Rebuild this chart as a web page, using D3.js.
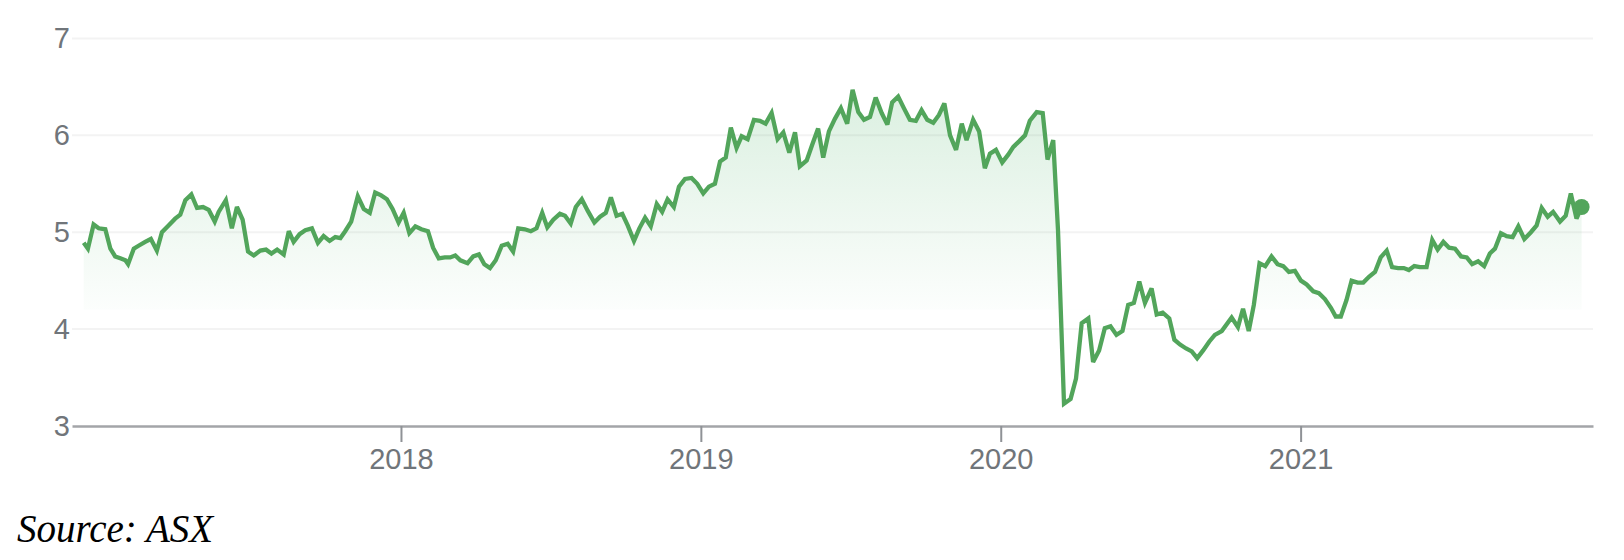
<!DOCTYPE html>
<html>
<head>
<meta charset="utf-8">
<script src="https://cdn.jsdelivr.net/npm/d3@7"></script>
<style>
  html, body { margin: 0; padding: 0; background: #fff; }
  svg { display: block; }
</style>
</head>
<body>
<svg id="chart" width="1624" height="560"></svg>
<script>
// ---- DATA (decimal year, price) ----
const years = [
2016.942,2016.956,2016.975,2016.992,2017.014,2017.031,2017.047,2017.064,2017.081,2017.090,
2017.109,2017.125,2017.147,2017.166,2017.186,2017.203,2017.225,2017.247,2017.264,2017.281,
2017.301,2017.320,2017.340,2017.359,2017.379,2017.392,2017.416,2017.436,2017.453,2017.472,
2017.490,2017.509,2017.531,2017.550,2017.568,2017.587,2017.609,2017.626,2017.642,2017.662,
2017.681,2017.703,2017.723,2017.742,2017.762,2017.781,2017.798,2017.814,2017.834,2017.856,
2017.876,2017.896,2017.914,2017.934,2017.953,2017.972,2017.992,2018.009,2018.028,2018.048,
2018.068,2018.090,2018.107,2018.126,2018.146,2018.164,2018.181,2018.198,
2018.222,2018.241,2018.260,2018.278,2018.297,2018.316,2018.336,2018.356,2018.374,2018.391,
2018.413,2018.433,2018.452,2018.471,2018.488,2018.508,2018.530,2018.547,2018.566,2018.583,
2018.603,2018.623,2018.645,2018.664,2018.683,2018.700,2018.719,2018.738,2018.756,2018.777,
2018.795,2018.814,2018.833,2018.853,2018.871,2018.889,2018.910,2018.927,2018.947,2018.969,
2018.988,2019.008,2019.027,2019.047,2019.064,2019.083,2019.100,2019.119,2019.136,2019.156,
2019.177,2019.197,2019.216,2019.236,2019.256,2019.275,2019.295,2019.314,2019.330,2019.353,
2019.371,2019.391,2019.408,2019.427,2019.447,2019.467,
2019.488,2019.506,2019.525,2019.544,2019.564,2019.583,2019.603,2019.622,2019.638,2019.658,
2019.677,2019.697,2019.717,2019.736,2019.755,2019.775,2019.794,2019.812,2019.831,2019.851,
2019.870,2019.886,2019.908,2019.928,2019.947,2019.964,2019.984,2020.005,2020.025,2020.042,
2020.062,2020.081,2020.097,2020.120,2020.140,2020.156,2020.175,2020.191,2020.211,2020.233,
2020.251,2020.270,2020.292,2020.308,2020.328,2020.347,2020.366,2020.386,2020.406,2020.425,
2020.444,2020.462,2020.481,2020.503,2020.520,2020.540,2020.562,2020.579,2020.598,2020.618,
2020.637,2020.655,2020.675,2020.695,2020.714,2020.737,2020.770,2020.791,2020.808,2020.827,
2020.844,2020.863,2020.882,2020.903,2020.923,2020.942,2020.961,2020.981,2021.001,2021.020,
2021.042,2021.061,2021.081,2021.101,2021.117,2021.134,2021.153,2021.170,2021.190,2021.209,
2021.228,2021.248,2021.267,2021.287,2021.305,2021.325,2021.344,2021.361,2021.379,2021.398,
2021.420,2021.439,2021.457,2021.476,2021.495,2021.515,2021.535,2021.554,2021.572,2021.592,
2021.612,2021.631,2021.648,2021.668,2021.687,2021.707,2021.726,2021.746,2021.768,2021.787,
2021.804,2021.824,2021.842,2021.865,2021.884,2021.901,2021.920,2021.937
];
const prices = [
4.89,4.83,5.08,5.04,5.03,4.83,4.75,4.73,4.71,4.67,
4.83,4.86,4.90,4.93,4.81,5.00,5.07,5.14,5.18,5.33,
5.39,5.25,5.26,5.23,5.11,5.21,5.33,5.04,5.26,5.13,
4.80,4.76,4.81,4.82,4.78,4.82,4.77,5.01,4.90,4.98,
5.02,5.04,4.89,4.96,4.91,4.95,4.94,5.01,5.11,5.37,
5.24,5.20,5.41,5.38,5.34,5.24,5.10,5.20,4.99,5.06,
5.03,5.01,4.84,4.73,4.74,4.74,4.76,4.71,
4.68,4.75,4.77,4.67,4.63,4.71,4.86,4.88,4.80,5.04,
5.03,5.01,5.04,5.20,5.05,5.13,5.19,5.17,5.09,5.26,
5.34,5.22,5.10,5.16,5.20,5.36,5.17,5.19,5.07,4.91,
5.04,5.15,5.06,5.29,5.21,5.34,5.26,5.47,5.55,5.56,
5.50,5.40,5.47,5.50,5.73,5.77,6.08,5.87,5.99,5.96,
6.16,6.15,6.12,6.23,5.96,6.03,5.82,6.03,5.68,5.74,
5.90,6.07,5.77,6.04,6.17,6.28,
6.12,6.47,6.24,6.16,6.19,6.39,6.23,6.11,6.34,6.40,
6.28,6.16,6.15,6.26,6.16,6.13,6.21,6.33,6.00,5.85,
6.12,5.95,6.16,6.04,5.66,5.81,5.85,5.72,5.80,5.88,
5.94,6.00,6.15,6.24,6.23,5.75,5.95,5.02,3.23,3.28,
3.49,4.06,4.11,3.66,3.78,4.01,4.03,3.94,3.98,4.25,
4.27,4.49,4.27,4.42,4.15,4.17,4.11,3.89,3.84,3.80,
3.77,3.70,3.78,3.87,3.94,3.98,4.12,4.02,4.21,3.98,
4.25,4.68,4.65,4.75,4.67,4.65,4.59,4.60,4.50,4.46,
4.39,4.37,4.31,4.22,4.13,4.13,4.30,4.50,4.48,4.48,
4.54,4.59,4.74,4.81,4.64,4.63,4.63,4.61,4.65,4.64,
4.64,4.92,4.82,4.90,4.84,4.83,4.75,4.74,4.67,4.70,
4.65,4.78,4.83,4.99,4.96,4.95,5.06,4.93,5.00,5.07,
5.25,5.16,5.21,5.11,5.17,5.40,5.14,5.26
];
const xDomain = [2016.903, 2021.975];
const yTicks = [3, 4, 5, 6, 7];
const xTicks = [2018, 2019, 2020, 2021];
const sourceText = "Source: ASX";

// ---- LAYOUT ----
const svg = d3.select("#chart");
const mLeft = 72, mRight = 1593, mTop = 38.4, mBottom = 426;
const lineColor = "#52a55b";
const textColor = "#70757a";

const data = years.map((t, i) => ({ t, v: prices[i] }));

const x = d3.scaleLinear().domain(xDomain).range([mLeft, mRight]);
const y = d3.scaleLinear().domain([3, 7]).range([mBottom, mTop]);

// gradient
const defs = svg.append("defs");
const grad = defs.append("linearGradient")
  .attr("id", "fillGrad")
  .attr("gradientUnits", "userSpaceOnUse")
  .attr("x1", 0).attr("x2", 0)
  .attr("y1", y(6.5)).attr("y2", y(4.2));
grad.append("stop").attr("offset", 0).attr("stop-color", "#34a853").attr("stop-opacity", 0.18);
grad.append("stop").attr("offset", 1).attr("stop-color", "#34a853").attr("stop-opacity", 0.015);

defs.append("clipPath").attr("id", "fillClip")
  .append("rect").attr("x", mLeft).attr("y", 0)
  .attr("width", mRight - mLeft).attr("height", y(4.2));

// gridlines
svg.append("g")
  .selectAll("line")
  .data(yTicks.filter(d => d !== 3))
  .join("line")
  .attr("x1", mLeft).attr("x2", mRight)
  .attr("y1", d => y(d)).attr("y2", d => y(d))
  .attr("stroke", "#f3f3f3")
  .attr("stroke-width", 2);

// area
const area = d3.area()
  .x(d => x(d.t))
  .y0(y(4.2))
  .y1(d => y(d.v));
svg.append("path")
  .datum(data)
  .attr("d", area)
  .attr("fill", "url(#fillGrad)")
  .attr("clip-path", "url(#fillClip)");

// y axis labels
const yAxis = svg.append("g")
  .attr("transform", `translate(${mLeft},0)`)
  .call(d3.axisLeft(y).tickValues(yTicks).tickSize(0).tickPadding(2).tickFormat(d3.format("d")));
yAxis.select(".domain").remove();
yAxis.selectAll("text")
  .attr("fill", textColor)
  .style("font-family", "'Liberation Sans', Arial, sans-serif")
  .style("font-size", "29px");

// x axis
const xAxis = svg.append("g")
  .attr("transform", `translate(0,${mBottom})`)
  .call(d3.axisBottom(x).tickValues(xTicks).tickFormat(d3.format("d"))
    .tickSizeInner(16).tickSizeOuter(0).tickPadding(6));
xAxis.select(".domain").attr("stroke", "#a3a5a8").attr("stroke-width", 2.5);
xAxis.selectAll(".tick line").attr("stroke", "#8f9296").attr("stroke-width", 2);
xAxis.selectAll("text")
  .attr("fill", textColor)
  .style("font-family", "'Liberation Sans', Arial, sans-serif")
  .style("font-size", "29px");

// line
const line = d3.line()
  .x(d => x(d.t))
  .y(d => y(d.v));
svg.append("path")
  .datum(data)
  .attr("d", line)
  .attr("fill", "none")
  .attr("stroke", lineColor)
  .attr("stroke-width", 4.3)
  .attr("stroke-linejoin", "miter")
  .attr("stroke-miterlimit", 3);

// end dot
const last = data[data.length - 1];
svg.append("circle")
  .attr("cx", x(last.t))
  .attr("cy", y(last.v))
  .attr("r", 8)
  .attr("fill", lineColor);

// source
svg.append("text")
  .attr("x", 17)
  .attr("y", 542)
  .text(sourceText)
  .style("font-family", "'Liberation Serif', 'Times New Roman', serif")
  .style("font-style", "italic")
  .style("font-size", "39px")
  .attr("fill", "#000");
</script>
</body>
</html>
